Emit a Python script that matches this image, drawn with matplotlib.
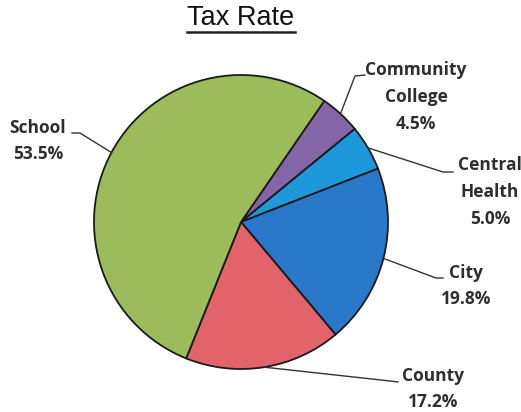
import numpy as np
import matplotlib
matplotlib.use("Agg")
import matplotlib.pyplot as plt
from matplotlib.lines import Line2D

# ---- data ----
categories = ["Community\nCollege", "Central\nHealth", "City", "County", "School"]
shares = [4.5, 5.0, 19.8, 17.2, 53.5]
colors = ["#8466A8", "#1D98DA", "#2A78C9", "#E2636A", "#9CBB5B"]
title = "Tax Rate"

# ---- layout (image pixel coordinates, y downward) ----
W, H = 521, 412
center_img = (241, 222)
radius = 147
start_angle = 55.5
# label text centres and elbow points for leader lines
label_pos = [(416, 97), (490, 192), (466, 286), (433, 389), (38, 141)]
elbow_pts = [[(365, 75), (355, 76)],
             [(453, 172), (443, 172)],
             [(443, 278), (436, 278)],
             [(398, 382), (390, 381)],
             [(72, 133), (80, 133)]]

fig = plt.figure(figsize=(W / 100, H / 100), dpi=100)
ax = fig.add_axes([0, 0, 1, 1])

cx, cy = center_img[0], H - center_img[1]
wedges, _ = ax.pie(shares, colors=colors, startangle=start_angle, counterclock=False,
                   center=(cx, cy), radius=radius, frame=True,
                   wedgeprops=dict(edgecolor="#1a1a1a", linewidth=1.3))
ax.set_xlim(0, W)
ax.set_ylim(0, H)
ax.set_aspect("equal")
ax.axis("off")

font = dict(family=["Open Sans", "DejaVu Sans"], weight="bold", fontsize=12.5, color="#2e2e2e")

for w, cat, val, (lx, ly), elb in zip(wedges, categories, shares, label_pos, elbow_pts):
    mid = np.deg2rad((w.theta1 + w.theta2) / 2)
    ex, ey = cx + radius * np.cos(mid), cy + radius * np.sin(mid)
    pts = [(ex, ey)] + [(px, H - py) for px, py in reversed(elb)]
    ax.plot([p[0] for p in pts], [p[1] for p in pts], color="#333333", lw=1.0)
    ax.text(lx, H - ly, f"{cat}\n{val:.1f}%", ha="center", va="center",
            linespacing=1.62, **font)

t = ax.text(241, H - 18, title, ha="center", va="center",
            family=["Liberation Sans", "DejaVu Sans"], fontsize=19.5, color="#111111")
fig.canvas.draw()
bb = t.get_window_extent(fig.canvas.get_renderer())
uy = H - 31.5
ax.add_line(Line2D([bb.x0, bb.x1], [uy, uy], color="#222222", lw=1.8))

fig.savefig("out.png", dpi=100, facecolor="white")
